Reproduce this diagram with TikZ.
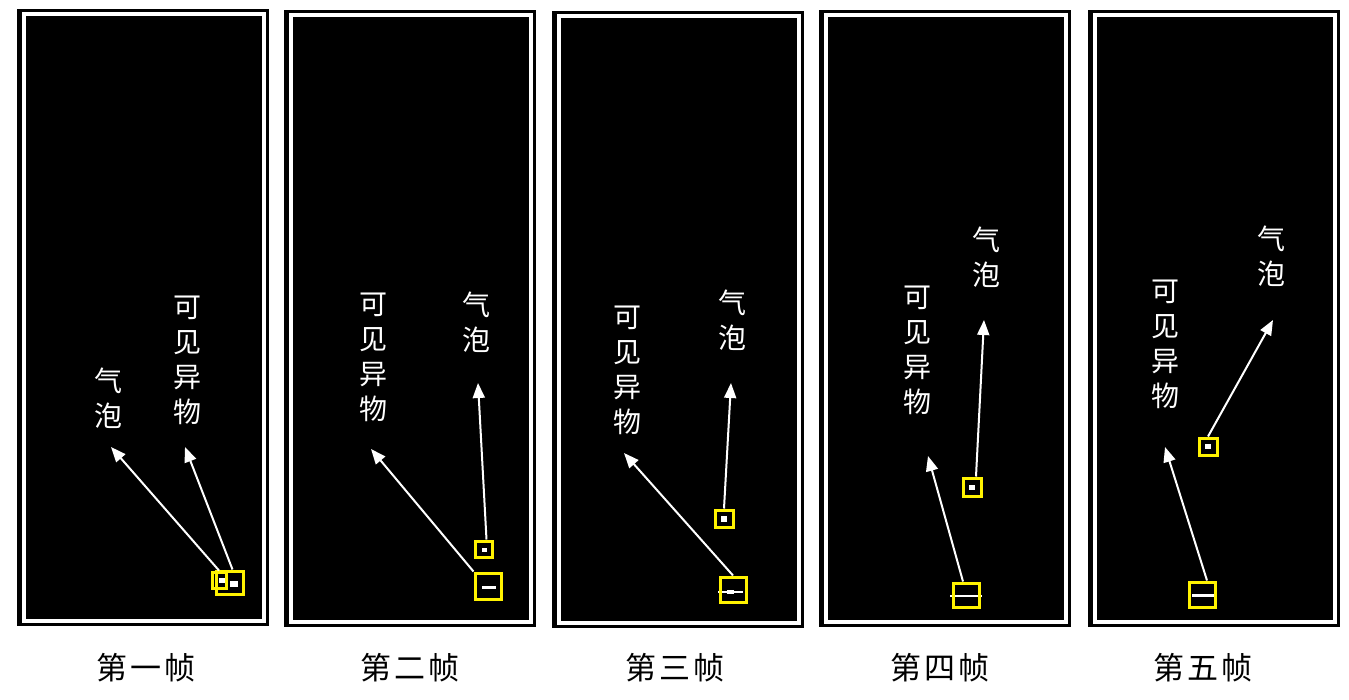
\documentclass[tikz,border=0pt]{standalone}
\usepackage{fontspec}
\newfontfamily\cjk{Noto Sans CJK SC}
\usetikzlibrary{arrows.meta}
\newcommand\vidframe[2]{%
  \fill[black] (#1,#2) rectangle ++(252,617);
  \draw[white,line width=3.6pt] (#1+7,#2+5) rectangle (#1+247,#2+612);}
\newcommand\capsp{\hspace{3pt}}
\tikzset{
  lbl/.style={text=white,align=center,font=\cjk\fontsize{28}{35}\selectfont,inner sep=0pt},
  captxt/.style={text=black,font=\cjk\fontsize{31}{36}\selectfont,inner sep=0pt},
  ybox/.style={draw=yellow,line width=3pt,inner sep=0pt},
  warrow/.style={white,line width=2pt,-{Triangle[length=15pt,width=12pt]}},
  blob/.style={fill=white}
}
\begin{document}
\begin{tikzpicture}[x=1pt,y=-1pt]
\useasboundingbox[fill=white] (0,0) rectangle (1349,700);
% frames
\vidframe{17}{9}
\vidframe{284}{10}
\vidframe{552}{11}
\vidframe{819}{10}
\vidframe{1088}{10}
% captions
\node[captxt] (c1) at (146,668) {第\capsp 一\capsp 帧};
\node[captxt] (c2) at (410,668) {第\capsp 二\capsp 帧};
\node[captxt] (c3) at (675,668) {第\capsp 三\capsp 帧};
\node[captxt] (c4) at (940,668) {第\capsp 四\capsp 帧};
\node[captxt] (c5) at (1203,668) {第\capsp 五\capsp 帧};
% ---- frame 1
\node[lbl] (q1) at (108,398) {气\\泡};
\node[lbl] (y1) at (187,360) {可\\见\\异\\物};
\fill[blob] (219,578) rectangle (225,583);
\fill[blob] (230,581) rectangle (238,587);
\node[ybox,minimum width=14pt,minimum height=16pt] (bq1) at (219,580) {};
\node[ybox,minimum width=27pt,minimum height=23pt] (by1) at (229.5,582.5) {};
\coordinate (tq1) at (111,447);
\coordinate (ty1) at (185,447);
\draw[warrow] (bq1.north) -- (tq1);
\draw[warrow] ([xshift=3pt]by1.north) -- (ty1);
% ---- frame 2
\node[lbl] (y2) at (373,357.5) {可\\见\\异\\物};
\node[lbl] (q2) at (476,322.5) {气\\泡};
\fill[blob] (482,548) rectangle (487,552);
\fill[blob] (482,586) rectangle (496,589);
\node[ybox,minimum width=17pt,minimum height=16pt] (bq2) at (483.5,549) {};
\node[ybox,minimum width=26pt,minimum height=26pt] (by2) at (488,586) {};
\coordinate (tq2) at (478,383);
\coordinate (ty2) at (371,449);
\draw[warrow] ([xshift=3pt]bq2.north) -- (tq2);
\draw[warrow] (by2.north west) -- (ty2);
% ---- frame 3
\node[lbl] (y3) at (627,370.5) {可\\见\\异\\物};
\node[lbl] (q3) at (732,320.5) {气\\泡};
\fill[blob] (721,516) rectangle (727,522);
\fill[blob] (718,591) rectangle (743,593);
\fill[blob] (727,590) rectangle (734,594);
\node[ybox,minimum width=18pt,minimum height=17pt] (bq3) at (724,518.5) {};
\node[ybox,minimum width=26pt,minimum height=25pt] (by3) at (733,589.5) {};
\coordinate (tq3) at (731,383);
\coordinate (ty3) at (624,453);
\draw[warrow] (bq3.north) -- (tq3);
\draw[warrow] (by3.north) -- (ty3);
% ---- frame 4
\node[lbl] (y4) at (917,350) {可\\见\\异\\物};
\node[lbl] (q4) at (986,257.5) {气\\泡};
\fill[blob] (969,485) rectangle (975,490);
\fill[blob] (950,595) rectangle (982,597);
\node[ybox,minimum width=18pt,minimum height=18pt] (bq4) at (972,487) {};
\node[ybox,minimum width=26pt,minimum height=24pt] (by4) at (966,595) {};
\coordinate (tq4) at (984,320);
\coordinate (ty4) at (928,456);
\draw[warrow] ([xshift=4pt]bq4.north) -- (tq4);
\draw[warrow] ([xshift=-3pt]by4.north) -- (ty4);
% ---- frame 5
\node[lbl] (y5) at (1165,344.5) {可\\见\\异\\物};
\node[lbl] (q5) at (1271,256.5) {气\\泡};
\fill[blob] (1205,444) rectangle (1211,449);
\fill[blob] (1192,594) rectangle (1214,597);
\node[ybox,minimum width=18pt,minimum height=17pt] (bq5) at (1208,446.5) {};
\node[ybox,minimum width=26pt,minimum height=25pt] (by5) at (1202,594.5) {};
\coordinate (tq5) at (1273,320);
\coordinate (ty5) at (1165,447);
\draw[warrow] (bq5.north) -- (tq5);
\draw[warrow] ([xshift=5pt]by5.north) -- (ty5);
\end{tikzpicture}
\end{document}
